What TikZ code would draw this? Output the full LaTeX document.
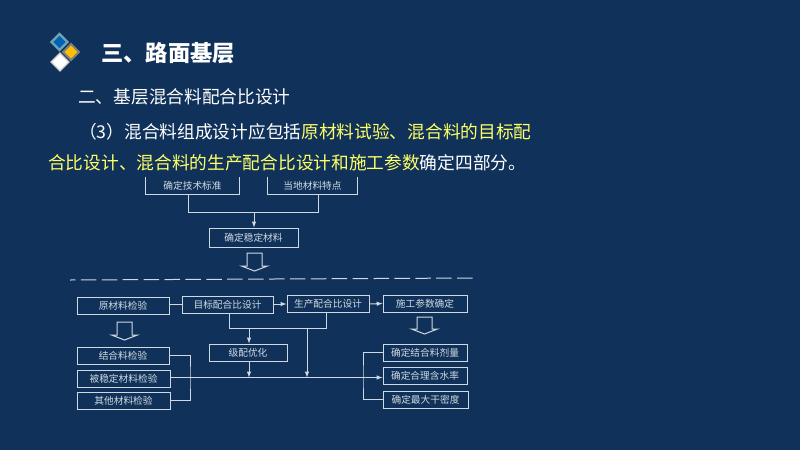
\documentclass[tikz,border=0pt]{standalone}
\usepackage{fontspec}
\newfontfamily\cjk{Noto Sans CJK SC}
\usepackage{tikz}
\usetikzlibrary{arrows}
\definecolor{bgcol}{HTML}{10325A}
\definecolor{linecol}{HTML}{D0D9E1}
\definecolor{hilite}{HTML}{FFFF66}
\tikzset{>=latex}
\tikzset{
  linkline/.style={draw=linecol, line width=1pt},
  boxnode/.style={linkline, minimum height=17pt, inner sep=0pt, text=linecol, font=\cjk\fontsize{9.7}{10}\selectfont},
  textline/.style={anchor=base west, inner sep=0pt, text=white, font=\cjk\fontsize{17.7}{20}\selectfont},
}

\begin{document}
\begin{tikzpicture}[x=1pt, y=-1pt]
      \fill[bgcol] (0,0) rectangle (800,450);
      \useasboundingbox (0,0) rectangle (800,450);

      \filldraw[fill=blue!45!cyan!70!black, draw=cyan!40!gray, line width=2.2pt] (59.5,34) -- (67.5,42) -- (59.5,50) -- (51.5,42) -- cycle;
      \filldraw[fill=orange!50!yellow, draw=gray, line width=2pt] (71,44) -- (79,52) -- (71,60) -- (63,52) -- cycle;
      \filldraw[fill=white, draw=gray!40, line width=1.2pt] (60,53) -- (69,62) -- (60,71) -- (51,62) -- cycle;

      \node[textline, font=\cjk\bfseries\fontsize{22.3}{24}\selectfont] (title) at (101,61) {三、路面基层};
      \node[textline] (line1) at (78,103) {二、基层混合料配合比设计};
      \node[textline] (line2) at (79,138) {（3）混合料组成设计应包括\textcolor{hilite}{原材料试验、混合料的目标配}};
      \node[textline] (line3) at (48,169) {\textcolor{hilite}{合比设计、混合料的生产配合比设计和施工参数}确定四部分。};

      \node[boxnode, draw=none, minimum width=93pt] (std) at (192.5,185.5) {确定技术标准};
      \node[boxnode, draw=none, minimum width=89pt] (local) at (312.5,185.5) {当地材料特点};
      \draw[linkline] (std.north west) -- (std.south west) -- (std.south east) -- (std.north east);
      \draw[linkline] (local.north west) -- (local.south west) -- (local.south east) -- (local.north east);
      \node[boxnode, minimum width=89pt, minimum height=19pt] (stable) at (253.5,237.5) {确定稳定材料};

      \node[boxnode, minimum width=92pt] (raw) at (123,305.5) {原材料检验};
      \node[boxnode, minimum width=91pt] (target) at (227.5,304.5) {目标配合比设计};
      \node[boxnode, minimum width=82pt] (prod) at (328,304) {生产配合比设计};
      \node[boxnode, minimum width=84pt] (param) at (425,303.5) {施工参数确定};

      \node[boxnode, minimum width=92pt] (binder) at (123,355.5) {结合料检验};
      \node[boxnode, minimum width=93pt] (base) at (123.5,378.5) {被稳定材料检验};
      \node[boxnode, minimum width=93pt] (other) at (123.5,400.5) {其他材料检验};
      \node[boxnode, minimum width=78pt] (grade) at (248,352.5) {级配优化};

      \node[boxnode, minimum width=84pt] (dose) at (425,352.5) {确定结合料剂量};
      \node[boxnode, minimum width=84pt] (water) at (425,375.5) {确定合理含水率};
      \node[boxnode, minimum width=85pt] (dens) at (425.5,399.5) {确定最大干密度};

      \coordinate (A) at (188,212);
      \coordinate (B) at (318,212);
      \coordinate (C) at (254,212);
      \draw[linkline] (std.south west -| A) -- (A) -- (B) -- (local.south west -| B);
      \draw[linkline, ->] (C) -- (stable.north -| C);

      \draw[linkline] (raw.east |- target.west) -- (target.west);
      \draw[linkline, ->] (target.east |- prod.west) -- (prod.west);
      \draw[linkline, ->] (prod.east) -- (param.west);

      \coordinate (D) at (229,328);
      \coordinate (E) at (326,328);
      \coordinate (F) at (249,328);
      \coordinate (G) at (307,328);
      \coordinate (H) at (190,377.5);
      \coordinate (J) at (363,377.5);
      \draw[linkline] (target.south -| D) -- (D) -- (E) -- (prod.south -| E);
      \draw[linkline, ->] (F) -- (grade.north -| F);
      \draw[linkline] (binder.east) -| (H) |- (other.east);
      \draw[linkline, ->] (base.east |- J) -- (water.west |- J);
      \draw[linkline, ->] (grade.south -| F) -- (F |- J);
      \draw[linkline, ->] (G) -- (G |- J);
      \draw[linkline] (dose.west) -| (J) |- (dens.west);

      \foreach \x/\y/\h in {254.5/253/13, 124.5/322/13, 424.5/317/12}{
        \draw[linkline] (\x-7.5,\y) -- (\x+7.5,\y) -- (\x+7.5,\y+\h) -- (\x+13,\y+\h) -- (\x,\y+\h+5) -- (\x-13,\y+\h) -- (\x-7.5,\y+\h) -- cycle;
      }

      \coordinate (K) at (70,280);
      \coordinate (L) at (477,278);
      \draw[linkline, dash pattern=on 15.5pt off 5.4pt, dash phase=10pt] (K) -- (L);
\end{tikzpicture}
\end{document}
